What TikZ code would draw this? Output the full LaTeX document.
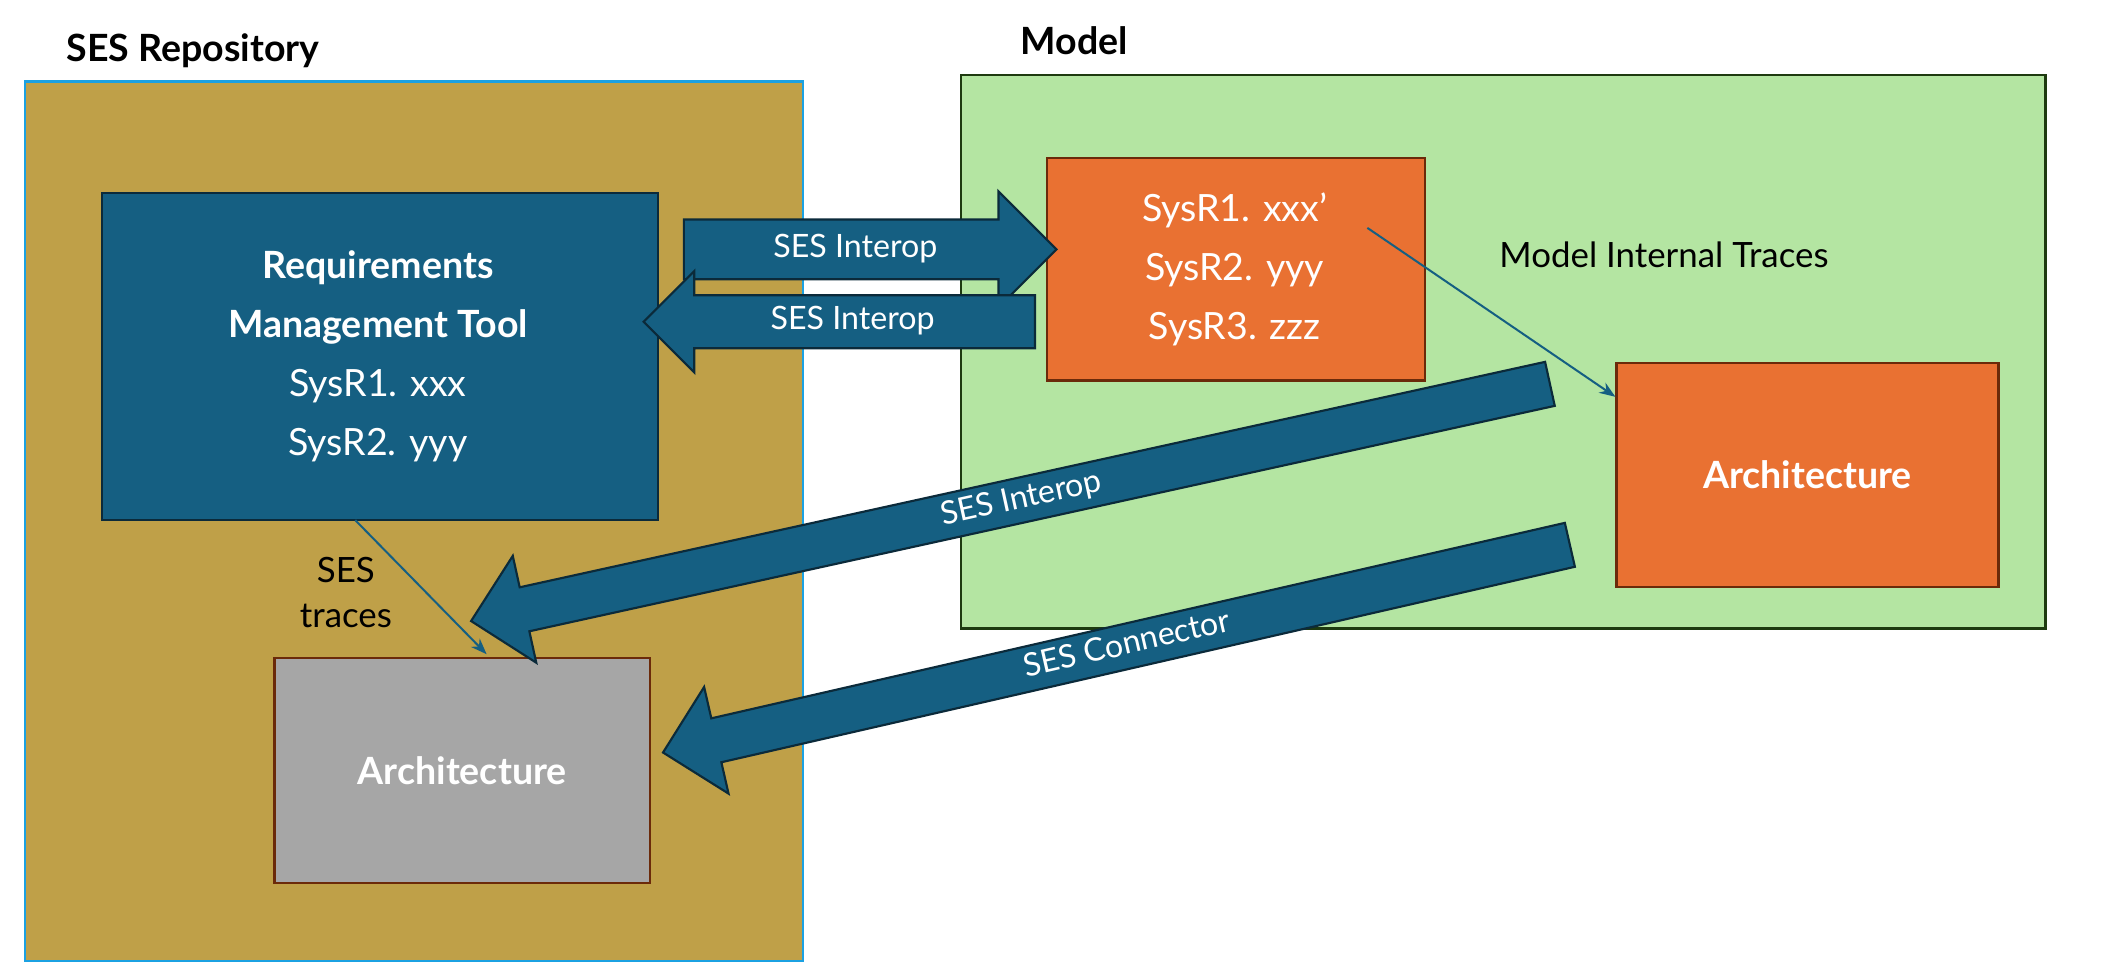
\documentclass[tikz,border=0pt]{standalone}
\usepackage{fontspec}
\setmainfont{Lato}
\usetikzlibrary{shapes.arrows,arrows.meta}
\definecolor{gold}{HTML}{BFA048}
\definecolor{cyanb}{HTML}{1BA1E2}
\definecolor{mgreen}{HTML}{B4E5A2}
\definecolor{dgreen}{HTML}{1E3A10}
\definecolor{blu}{HTML}{155F82}
\definecolor{dblu}{HTML}{0B2A3A}
\definecolor{orng}{HTML}{E97132}
\definecolor{brwn}{HTML}{6B2A0A}
\definecolor{gry}{HTML}{A6A6A6}
\tikzset{
  box/.style={draw=#1, line width=1.6pt},
  wt/.style={text=white, align=center, font=\fontsize{28}{44}\selectfont},
  fat/.style={single arrow, fill=blu, draw=dblu, line width=1.6pt, text=white,
     font=\fontsize{24}{28}\selectfont, text height=17pt, text depth=5pt, inner xsep=0pt, anchor=center},
  thin/.style={draw=blu, line width=1.5pt, -{Stealth[length=12pt,width=9pt]}}
}
\begin{document}
\begin{tikzpicture}[x=1pt,y=-1pt]
\useasboundingbox (0,0) rectangle (1568,725);
% containers
\node[box=cyanb, fill=gold, minimum width=580, minimum height=656, inner sep=0, anchor=north west] (rep) at (18,60) {};
\node[font=\bfseries\fontsize{28}{32}\selectfont, anchor=west] (reptitle) at (46,38) {SES Repository};
\node[box=dgreen, fill=mgreen, minimum width=809, minimum height=413, inner sep=0, anchor=north west] (model) at (716,55) {};
\node[font=\bfseries\fontsize{28}{32}\selectfont, anchor=west] (modeltitle) at (758,30) {Model};
% boxes
\node[box=dblu, fill=blu, minimum width=415, minimum height=244, inner sep=0, anchor=north west] (rmt) at (75,143) {};
\node[wt] at (282,266) {\textbf{Requirements}\\\textbf{Management Tool}\\SysR1. xxx\\SysR2. yyy};
\node[box=brwn, fill=orng, minimum width=282, minimum height=166, inner sep=0, anchor=north west] (sysr) at (780,117) {};
\node[wt] at (921,201) {SysR1. xxx’\\SysR2. yyy\\SysR3. zzz};
\node[box=brwn, fill=orng, minimum width=285, minimum height=167, inner sep=0, anchor=north west] (arch1) at (1205,270) {};
\node[wt, font=\bfseries\fontsize{28}{32}\selectfont] at (arch1.center) {Architecture};
\node[box=brwn, fill=gry, minimum width=280, minimum height=168, inner sep=0, anchor=north west] (arch2) at (204,490) {};
\node[wt, font=\bfseries\fontsize{28}{32}\selectfont] at (arch2.center) {Architecture};
% labels
\node[font=\fontsize{26}{30}\selectfont, anchor=west] (mit) at (1115,190) {Model Internal Traces};
\node[font=\fontsize{26}{34}\selectfont, align=center] (sest) at (258,442) {SES\\traces};
% fat arrows
\node[fat, minimum height=278, minimum width=85, inner ysep=10.5pt, single arrow head extend=21pt] (a1) at (638,186) {SES Interop};
\node[fat, shape border rotate=180, minimum height=292, minimum width=74, inner ysep=8pt, single arrow head extend=18pt] (a2) at (636,240) {SES Interop};
\node[fat, rotate=12.4, shape border rotate=180, minimum height=824, minimum width=80, inner ysep=5pt, single arrow head extend=24pt] (a3) at (762,373) {SES Interop};
\node[fat, rotate=12.9, shape border rotate=180, minimum height=694, minimum width=80, inner ysep=5pt, single arrow head extend=24pt] (a4) at (841,482) {SES Connector};
% thin traces
\coordinate (t1s) at (1020,170); \coordinate (t1e) at (1205,296);
\coordinate (t2s) at (265,388); \coordinate (t2e) at (363,488);
\draw[thin] (t1s) -- (t1e);
\draw[thin] (t2s) -- (t2e);
\end{tikzpicture}
\end{document}
